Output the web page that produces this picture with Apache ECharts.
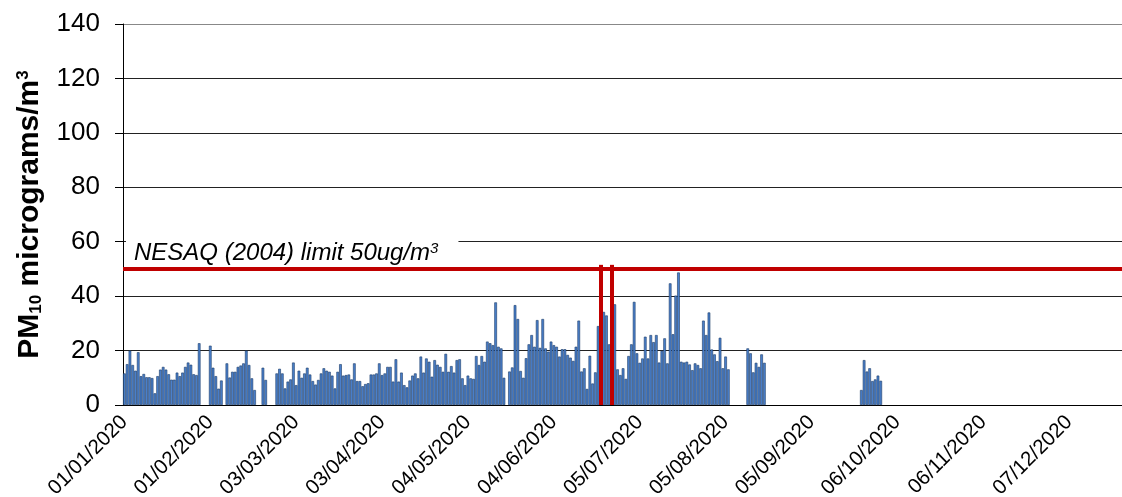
<!DOCTYPE html>
<html>
<head>
<meta charset="utf-8">
<script src="https://cdn.jsdelivr.net/npm/echarts@6/dist/echarts.min.js"></script>
<style>
  html, body { margin: 0; padding: 0; background: #fff; }
  #main { width: 1122px; height: 497px; }
</style>
</head>
<body>
<div id="main"></div>
<script>
// daily PM10 (ug/m3) for 2020, one value per day, null = no reading
var jan = [11.6, 15, 20, 14.7, 12.6, 19.4, 10.6, 11.4, 10.2, 10.2, 9.9, 4.3, 10.6, 13, 14, 13,
  11.3, 9.3, 9.3, 11.9, 10.6, 11.9, 14, 15.6, 14.8, 11.3, 11, 22.7, null, null, null];
var feb = [21.8, 13.7, 10.6, 6, 9, null, 15.3, 10.1, 12.2, 12.2, 14, 14.5, 15.3, 20, 14.7,
  9.8, 5.5, null, null, 13.7, 9.2, null, null, null, 11.6, 13.3, 11.6, 6.1, 8.6];
var mar = [9.4, 15.6, 7.3, 12.6, 10, 11.6, 13.7, 11.2, 8.8, 7.5, 9.2, 11.6, 13.5, 12.6, 12.2,
  10.8, 6.1, 12.2, 15, 10.8, 11, 11.2, 9.4, 15.3, 8.8, 8.8, 6.9, 7.7, 8, 11.2, 11.2];
var apr = [11.6, 15.3, 11, 11.6, 14, 14, 8.6, 16.8, 8.6, 11.9, 7.3, 6.5, 9, 10.8, 11.6, 9.8,
  17.8, 11.9, 17.1, 15.9, 10.4, 16.5, 14.8, 14, 12.2, 18.8, 12.2, 14.3, 11.9, 16.5];
var may = [16.8, 9.8, 7.3, 10.8, 9.8, 9.6, 18, 14.7, 18, 15.9, 23.3, 22.7, 22, 37.7, 21.4,
  20.8, 10, null, 12.3, 13.8, 36.7, 31.6, 12.5, 10, 17.2, 22.3, 25.7, 21.4, 31.2, 21, 31.6];
var jun = [20.8, 19.6, 23.3, 22, 21.4, 17.8, 20.5, 20.5, 18.4, 17.4, 16.2, 21.4, 31, 12.3,
  13.5, 5.9, 18.1, 7.9, 12, 29, null, 34.2, 32.9, 22.3, null, 37, 13.1, 11, 13.5, 9.6];
var jul = [18, 22.3, 37.9, 19, 15.5, 17.1, 25.1, 17.1, 25.7, 23.1, 25.7, 15.6, 19.9, 24.5,
  15.3, 44.7, 26, 40.2, 48.7, 15.9, 15.6, 15.9, 14.9, 12.8, 15.3, 14.7, 13.5, 31, 25.7, 34, 20.4];
var aug = [18.6, 16.1, 24.7, 13.5, 17.8, 13.1, null, null, null, null, null, null,
  20.8, 19, 12, 15.5, 14, 18.6, 15.5, null, null, null, null, null, null, null, null, null,
  null, null, null];
var sep = [null, null, null, null, null, null, null, null, null, null, null, null, null, null,
  null, null, null, null, null, null, null, null, 5.5, 16.5, 12.3, 13.5, 8.8, 9.4, 10.8, 8.9];
var oct = new Array(31).fill(null);
var nov = new Array(30).fill(null);
var dec = new Array(31).fill(null);

var pm10 = jan.concat(feb, mar, apr, may, jun, jul, aug, sep, oct, nov, dec);

// NESAQ limit line, with the two days where it drops to zero
var LIMIT = 50;
var limitDropDates = ["21/06/2020", "25/06/2020"];

// one category per day, dd/mm/yyyy
var dates = [];
for (var t = Date.UTC(2020, 0, 1); t < Date.UTC(2021, 0, 1); t += 86400000) {
  var dt = new Date(t);
  var dd = String(dt.getUTCDate()).padStart(2, "0");
  var mm = String(dt.getUTCMonth() + 1).padStart(2, "0");
  dates.push(dd + "/" + mm + "/" + dt.getUTCFullYear());
}

var font = "Liberation Sans, Arial, sans-serif";
var myChart = echarts.init(document.getElementById("main"));

var markData = [
  {
    yAxis: LIMIT,
    label: {
      show: true,
      position: "insideStartTop",
      distance: 3,
      formatter: "{a|NESAQ (2004) limit 50ug/m}{s|3}",
      backgroundColor: "#fff",
      padding: [7, 20, 1, 8],
      rich: {
        a: { fontSize: 24, fontStyle: "italic", color: "#000", fontFamily: font },
        s: { fontSize: 15, fontStyle: "italic", color: "#000", fontFamily: font, verticalAlign: "top" },
      },
    },
  },
];
limitDropDates.forEach(function (d) {
  markData.push([
    { coord: [d, 0], label: { show: false } },
    { coord: [d, LIMIT + 1.5] },
  ]);
});

myChart.setOption({
  animation: false,
  grid: {
    left: 123,
    right: -15,
    top: 24,
    bottom: 92,
    containLabel: false,
    outerBoundsMode: "none",
    show: false,
  },
  xAxis: {
    type: "category",
    data: dates,
    boundaryGap: true,
    axisLine: { lineStyle: { color: "#000", width: 1 } },
    axisTick: {
      interval: 30,
      length: 6,
      lineStyle: { color: "#000" },
    },
    axisLabel: {
      interval: 30,
      rotate: 45,
      fontSize: 20.5,
      color: "#000",
      fontFamily: font,
      margin: 14,
    },
    splitLine: { show: false },
  },
  yAxis: {
    type: "value",
    min: 0,
    max: 140,
    interval: 20,
    axisLine: { show: true, lineStyle: { color: "#000" } },
    axisTick: { show: true, length: 8, lineStyle: { color: "#000" } },
    axisLabel: {
      fontSize: 26,
      color: "#000",
      fontFamily: font,
      margin: 23,
    },
    splitLine: {
      lineStyle: {
        color: ["#000", "#222", "#222", "#222", "#222", "#222", "#222", "#888"],
        width: 1,
      },
    },
    name: "{b|PM}{sub|10}{b| micrograms/m}{sup|3}",
    nameLocation: "middle",
    nameRotate: 90,
    nameGap: 78,
    nameTextStyle: {
      rich: {
        b: { fontSize: 30, fontWeight: "bold", color: "#000", fontFamily: font },
        sub: { fontSize: 17, fontWeight: "bold", color: "#000", fontFamily: font, verticalAlign: "bottom" },
        sup: { fontSize: 17, fontWeight: "bold", color: "#000", fontFamily: font, verticalAlign: "top" },
      },
    },
  },
  series: [
    {
      name: "PM10",
      type: "bar",
      data: pm10,
      barCategoryGap: "4%",
      itemStyle: {
        color: "#4a80cc",
        borderColor: "#1b3a66",
        borderWidth: 0.6,
      },
      markLine: {
        silent: true,
        symbol: ["none", "none"],
        lineStyle: { color: "#c00000", width: 4, type: "solid" },
        label: { show: false },
        data: markData,
      },
    },
  ],
});
</script>
</body>
</html>
